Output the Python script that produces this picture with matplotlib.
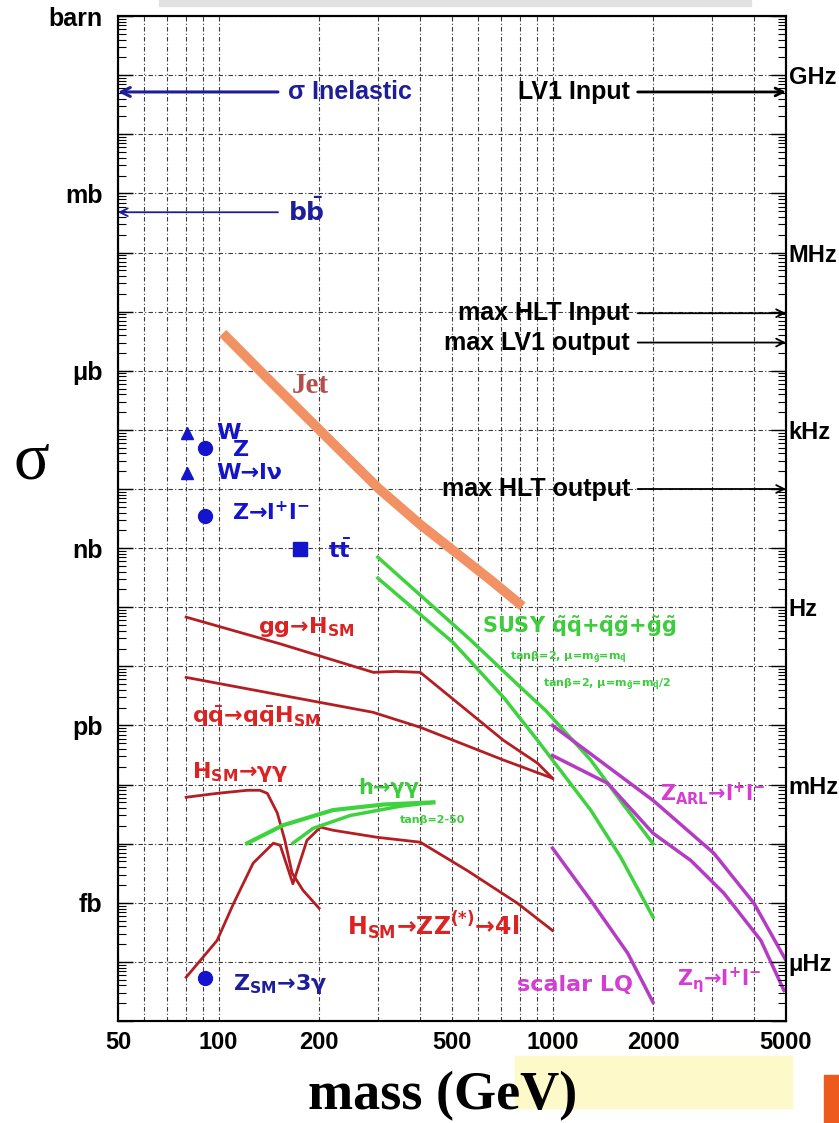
import math
import matplotlib
matplotlib.use("Agg")
import matplotlib.pyplot as plt
import matplotlib.transforms as mtransforms
from matplotlib.patches import Rectangle
from matplotlib.ticker import FixedLocator, FuncFormatter, LogLocator, NullFormatter

plt.rcParams['font.family'] = ['Liberation Sans', 'DejaVu Sans']
plt.rcParams['font.weight'] = 'bold'
plt.rcParams['mathtext.fontset'] = 'custom'
plt.rcParams['mathtext.rm'] = 'DejaVu Sans:bold'
plt.rcParams['mathtext.it'] = 'DejaVu Sans:bold'
plt.rcParams['mathtext.bf'] = 'DejaVu Sans:bold'
plt.rcParams['mathtext.sf'] = 'DejaVu Sans:bold'

# ---- cross sections (mass in GeV, sigma in barn) ----
jet_mass = [103, 140, 198, 301, 402, 530, 652, 813]
jet_sigma = [4.3e-6, 7.5e-7, 1.07e-7, 1.03e-8, 2.5e-9, 7.3e-10, 2.9e-10, 1.04e-10]

ggh_mass = [80, 153, 291, 340, 402, 568, 713, 902, 1000]
ggh_sigma = [6.8e-11, 2.4e-11, 7.9e-12, 8.2e-12, 7.9e-12, 1.6e-12, 5.6e-13, 2.3e-13, 1.28e-13]

qqh_mass = [80, 290, 402, 713, 1000]
qqh_sigma = [6.5e-12, 1.67e-12, 9.3e-13, 2.6e-13, 1.28e-13]

hgg_mass = [80, 99, 122, 133, 140, 150, 158, 166, 179, 200]
hgg_sigma = [6.1e-14, 7.1e-14, 8.0e-14, 8.0e-14, 7.1e-14, 3.3e-14, 1.14e-14, 3.2e-15, 1.63e-15, 8.1e-16]

hzz_mass = [80, 99, 111, 127, 146, 153, 167, 184, 202, 220, 299, 402, 556, 786, 1000]
hzz_sigma = [5.5e-17, 2.3e-16, 9.8e-16, 4.7e-15, 1.02e-14, 9.4e-15, 2.1e-15, 1.14e-14,
             1.9e-14, 1.69e-14, 1.28e-14, 1.06e-14, 3.5e-15, 9.8e-16, 3.4e-16]

mssm_hgg_hi_mass = [122, 156, 220, 312, 440]
mssm_hgg_hi_sigma = [1.02e-14, 2.05e-14, 3.7e-14, 4.6e-14, 5.0e-14]
mssm_hgg_lo_mass = [167, 192, 248, 350, 440]
mssm_hgg_lo_sigma = [1.02e-14, 1.82e-14, 3.0e-14, 4.3e-14, 5.0e-14]

susy_a_mass = [300, 568, 803, 953, 1301, 1634, 2000]
susy_a_sigma = [7.0e-10, 2.8e-11, 4.4e-12, 1.8e-12, 2.6e-13, 4.5e-14, 1.0e-14]
susy_b_mass = [300, 505, 713, 902, 1000, 1301, 1600, 2000]
susy_b_sigma = [3.1e-10, 2.5e-11, 3.0e-12, 5.6e-13, 2.6e-13, 3.7e-14, 5.9e-15, 5.7e-16]

zarl_mass = [1000, 2000, 3041, 4010, 5000]
zarl_sigma = [1.0e-12, 5.4e-14, 6.9e-15, 9.8e-16, 1.06e-16]
zeta_mass = [1000, 1463, 2000, 2595, 3260, 4207, 4930]
zeta_sigma = [3.1e-13, 1.05e-13, 1.5e-14, 5.2e-15, 1.45e-15, 2.3e-16, 3.3e-17]
lq_mass = [1000, 1301, 1680, 2000]
lq_sigma = [8.4e-15, 1.1e-15, 1.4e-16, 2.07e-17]

# single-value processes
w_mass, z_mass, top_mass = 80.4, 91.2, 175.0
w_total, w_lnu = 8.8e-8, 1.85e-8
z_total, z_ll = 4.9e-8, 3.5e-9
ttbar_sigma = 9.6e-10
z_3gamma = 5.3e-17

# reference levels (barn)
sigma_inelastic = 5.2e-2
sigma_bbbar = 4.8e-4
trigger_names = ["LV1 Input", "max HLT Input", "max LV1 output", "max HLT output"]
trigger_sigma = [5.2e-2, 9.4e-6, 3.0e-6, 1.0e-8]

# axes labelling
mass_ticks = [50, 100, 200, 500, 1000, 2000, 5000]
sigma_units = {0: "barn", 3: "mb", 6: "\u03bcb", 9: "nb", 12: "pb", 15: "fb"}
luminosity = 1e10  # rate [Hz] per barn  (L = 1e34 cm^-2 s^-1)
rate_units = {9: "GHz", 6: "MHz", 3: "kHz", 0: "Hz", -3: "mHz", -6: "\u03bcHz"}

RED_LINE = '#b41e22'
RED_TXT = '#dc2323'
GREEN = '#3fd23f'
GREEN_TXT = '#3ccc3c'
MAG_LINE = '#b43cc4'
MAG_TXT = '#d43cd4'
BLUE = '#1414cc'
NAVY = '#1e1e9a'

fig = plt.figure(figsize=(8.39, 11.23), dpi=100)
ax = fig.add_axes([0.1406, 0.0908, 0.7962, 0.8949])
ax.set_xscale('log')
ax.set_yscale('log')
ax.set_xlim(50, 5000)
ax.set_ylim(1e-17, 1)
ax.set_axisbelow(True)

# x axis
ax.xaxis.set_major_locator(FixedLocator(mass_ticks))
ax.xaxis.set_major_formatter(FuncFormatter(lambda v, p: f"{v:g}"))
ax.xaxis.set_minor_locator(FixedLocator([60, 70, 80, 90, 300, 400, 600, 700, 800, 900, 3000, 4000]))
ax.xaxis.set_minor_formatter(NullFormatter())
ax.tick_params(axis='x', which='both', length=0, labelsize=17, pad=7)

# left axis: cross section units
decades = [10.0 ** -k for k in range(18)]
ax.yaxis.set_major_locator(FixedLocator(decades))
ax.yaxis.set_major_formatter(FuncFormatter(
    lambda v, p: sigma_units.get(int(round(-math.log10(v))), "")))
ax.yaxis.set_minor_locator(LogLocator(base=10, subs=range(2, 10), numticks=200))
ax.yaxis.set_minor_formatter(NullFormatter())
ax.tick_params(axis='y', which='major', direction='in', length=11, width=1.0, labelsize=18, pad=11)
ax.tick_params(axis='y', which='minor', direction='in', length=6, width=0.8)

ax.grid(True, axis='x', which='both', color='#3a3a3a', lw=0.8, linestyle=(0, (4, 2, 1, 2)))
ax.grid(True, axis='y', which='major', color='#3a3a3a', lw=0.8, linestyle=(0, (4, 2, 1, 2)))
for sp in ax.spines.values():
    sp.set_linewidth(1.5)

# right axis: event rate
ax2 = ax.twinx()
ax2.set_yscale('log')
ax2.set_ylim(1e-17 * luminosity, 1 * luminosity)
ax2.yaxis.set_major_locator(FixedLocator([10.0 ** (10 - k) for k in range(18)]))
ax2.yaxis.set_major_formatter(FuncFormatter(
    lambda v, p: rate_units.get(int(round(math.log10(v))), "")))
ax2.yaxis.set_minor_locator(LogLocator(base=10, subs=range(2, 10), numticks=200))
ax2.yaxis.set_minor_formatter(NullFormatter())
ax2.tick_params(axis='y', which='major', direction='in', length=11, width=1.0, labelsize=17, pad=2)
ax2.tick_params(axis='y', which='minor', direction='in', length=6, width=0.8)
for sp in ax2.spines.values():
    sp.set_linewidth(1.5)

# curves
ax.plot(jet_mass, jet_sigma, color='#f29264', lw=7, solid_capstyle='butt', zorder=4)
ax.plot(ggh_mass, ggh_sigma, color=RED_LINE, lw=2, zorder=3)
ax.plot(qqh_mass, qqh_sigma, color=RED_LINE, lw=2, zorder=3)
ax.plot(hgg_mass, hgg_sigma, color=RED_LINE, lw=2, zorder=3)
ax.plot(hzz_mass, hzz_sigma, color=RED_LINE, lw=2, zorder=3)
ax.plot(mssm_hgg_hi_mass, mssm_hgg_hi_sigma, color=GREEN, lw=3, zorder=3)
ax.plot(mssm_hgg_lo_mass, mssm_hgg_lo_sigma, color=GREEN, lw=2.5, zorder=3)
ax.plot(susy_a_mass, susy_a_sigma, color=GREEN, lw=2.5, zorder=3)
ax.plot(susy_b_mass, susy_b_sigma, color=GREEN, lw=2.5, zorder=3)
ax.plot(zarl_mass, zarl_sigma, color=MAG_LINE, lw=2.5, zorder=3)
ax.plot(zeta_mass, zeta_sigma, color=MAG_LINE, lw=2.5, zorder=3)
ax.plot(lq_mass, lq_sigma, color=MAG_LINE, lw=2.5, zorder=3)

# markers
ax.plot([w_mass, w_mass], [w_total, w_lnu], '^', ms=8, color=BLUE, zorder=5)
ax.plot([z_mass, z_mass, z_mass], [z_total, z_ll, z_3gamma], 'o', ms=10, color=BLUE, zorder=5)
ax.plot([top_mass], [ttbar_sigma], 's', ms=10, color=BLUE, zorder=5)

# reference arrows
trans = mtransforms.blended_transform_factory(ax.transAxes, ax.transData)
ax.annotate('', xy=(0.0, sigma_inelastic), xytext=(0.2395, sigma_inelastic),
            xycoords=trans, textcoords=trans, annotation_clip=False,
            arrowprops=dict(arrowstyle='->', color=NAVY, lw=2.2, mutation_scale=16,
                            shrinkA=0, shrinkB=0))
ax.text(0.2545, sigma_inelastic, "\u03c3 Inelastic", transform=trans, ha='left', va='center',
        color=NAVY, fontsize=18)
ax.annotate('', xy=(0.0, sigma_bbbar), xytext=(0.2395, sigma_bbbar),
            xycoords=trans, textcoords=trans, annotation_clip=False,
            arrowprops=dict(arrowstyle='->', color=NAVY, lw=1.3, mutation_scale=14,
                            shrinkA=0, shrinkB=0))
ax.text(0.2545, sigma_bbbar, r"$b\bar{b}$", transform=trans, ha='left', va='center',
        color=NAVY, fontsize=18)

for name, val in zip(trigger_names, trigger_sigma):
    lw = 2.0 if name == "LV1 Input" else 1.3
    ax.annotate('', xy=(1.0, val), xytext=(0.778, val),
                xycoords=trans, textcoords=trans, annotation_clip=False,
                arrowprops=dict(arrowstyle='->', color='black', lw=lw, mutation_scale=14,
                                shrinkA=0, shrinkB=0))
    ax.text(0.7665, val, name, transform=trans, ha='right', va='center',
            color='black', fontsize=18)


# process labels (axes fraction)
def lab(x, y, s, color, size=16, family='DejaVu Sans', **kw):
    ax.text(x, y, s, transform=ax.transAxes, ha='left', va='center', color=color,
            fontsize=size, family=family, zorder=6, **kw)


lab(0.2605, 0.6328, "Jet", '#b4504c', size=21, family='Liberation Serif')
lab(0.1467, 0.5851, "W", BLUE)
lab(0.1722, 0.5682, "Z", BLUE)
lab(0.1467, 0.5453, "W\u2192l\u03bd", BLUE)
lab(0.1707, 0.5065, "Z\u2192l$^{+}$l$^{-}$", BLUE)
lab(0.3144, 0.4687, r"$t\bar{t}$", BLUE)
lab(0.2096, 0.3920, "gg\u2192H$_{SM}$", RED_TXT)
lab(0.1108, 0.3025, r"$q\bar{q}$" + "\u2192" + r"$q\bar{q}$H$_{SM}$", RED_TXT)
lab(0.1108, 0.2478, "H$_{SM}$\u2192\u03b3\u03b3", RED_TXT)
lab(0.3593, 0.2318, "h\u2192\u03b3\u03b3", GREEN_TXT, size=15)
lab(0.4222, 0.2000, "tan\u03b2=2-50", GREEN_TXT, size=8)
lab(0.3428, 0.0945, "H$_{SM}$\u2192ZZ$^{(*)}$\u21924l", RED_TXT, size=17)
lab(0.1722, 0.0368, "Z$_{SM}$\u21923\u03b3", NAVY)
lab(0.5449, 0.3930, r"SUSY $\tilde{q}\tilde{q}$+$\tilde{q}\tilde{g}$+$\tilde{g}\tilde{g}$", GREEN_TXT, size=15)
lab(0.5868, 0.3612, r"tan$\beta$=2, $\mu$=m$_{\tilde{g}}$=m$_{\tilde{q}}$", GREEN_TXT, size=8)
lab(0.6362, 0.3343, r"tan$\beta$=2, $\mu$=m$_{\tilde{g}}$=m$_{\tilde{q}}$/2", GREEN_TXT, size=8)
lab(0.8114, 0.2259, "Z$_{ARL}$\u2192l$^{+}$l$^{-}$", MAG_TXT, size=15)
lab(0.8368, 0.0398, r"Z$_{\eta}$" + "\u2192l$^{+}$l$^{-}$", MAG_TXT, size=15)
lab(0.5973, 0.0358, "scalar LQ", MAG_TXT, size=16)

# axis titles
fig.text(0.037, 0.589, "\u03c3", family='Liberation Serif', weight='normal', fontsize=48,
         ha='center', va='center')
fig.text(0.527, 0.002, "mass (GeV)", family='Liberation Serif', weight='bold', fontsize=39,
         ha='center', va='bottom', zorder=5)

# page decorations
fig.patches.append(Rectangle((0.1895, 0.9947), 0.7056, 0.0053, transform=fig.transFigure,
                             color='#e2e2e2', zorder=0))
fig.patches.append(Rectangle((0.6138, 0.0134), 0.3302, 0.0463, transform=fig.transFigure,
                             color='#fdf9c8', zorder=0))
fig.patches.append(Rectangle((0.982, 0.0), 0.018, 0.0427, transform=fig.transFigure,
                             color='#ee5a1e', zorder=0))

fig.savefig("out.png", dpi=100)
